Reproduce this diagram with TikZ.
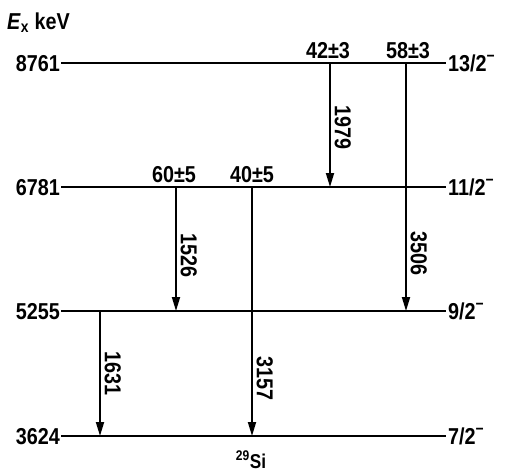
\documentclass[tikz,border=0pt]{standalone}
\usepackage{fontspec}
\setmainfont{Liberation Sans}[FakeStretch=0.86]
\usetikzlibrary{arrows.meta,positioning}

\begin{document}
\begin{tikzpicture}[
    x=1pt, y=-1pt,
    every node/.style={font=\fontsize{23}{25}\selectfont\bfseries},
    level/.style={line width=1.8pt},
    gam/.style={-{Triangle[length=14pt,width=8pt]}, line width=1.8pt},
    elab/.style={anchor=east, inner sep=1pt, text height=16pt, text depth=0pt},
    jlab/.style={anchor=west, inner sep=2pt, text height=16pt, text depth=0pt},
    ilab/.style={anchor=south, inner sep=4pt, text depth=0pt},
    glab/.style={rotate=-90, anchor=south, inner sep=4pt, text depth=0pt}
]
    \useasboundingbox (0,0) rectangle (506,472);

    % Axis title
    \node[anchor=base west, inner sep=0pt] (axis) at (7,29) {\textit{E}\textsubscript{x} keV};

    % Levels
    \node[elab] (e8761) at (61,63) {8761};
    \node[elab] (e6781) at (61,187) {6781};
    \node[elab] (e5255) at (61,311) {5255};
    \node[elab] (e3624) at (61,436) {3624};
    \node[jlab] (j8761) at (446,63) {13/2\textsuperscript{−}};
    \node[jlab] (j6781) at (446,187) {11/2\textsuperscript{−}};
    \node[jlab] (j5255) at (446,311) {9/2\textsuperscript{−}};
    \node[jlab] (j3624) at (446,436) {7/2\textsuperscript{−}};

    \draw[level] (e8761.east) -- (j8761.west);
    \draw[level] (e6781.east) -- (j6781.west);
    \draw[level] (e5255.east) -- (j5255.west);
    \draw[level] (e3624.east) -- (j3624.west);

    % Transitions
    \coordinate (s1979) at (330,63);  \coordinate (f1979) at (330,187);
    \coordinate (s3506) at (406,63);  \coordinate (f3506) at (406,311);
    \coordinate (s1526) at (176,187); \coordinate (f1526) at (176,311);
    \coordinate (s3157) at (252,187); \coordinate (f3157) at (252,436);
    \coordinate (s1631) at (100,311); \coordinate (f1631) at (100,436);

    \draw[gam] (s1979) -- (f1979) node[glab, pos=0.52] {1979};
    \draw[gam] (s3506) -- (f3506) node[glab, pos=0.77] {3506};
    \draw[gam] (s1526) -- (f1526) node[glab, pos=0.55] {1526};
    \draw[gam] (s3157) -- (f3157) node[glab, pos=0.77] {3157};
    \draw[gam] (s1631) -- (f1631) node[glab, pos=0.5] {1631};

    % Branching ratios
    \node[ilab] (b1979) at (328,63) {42±3};
    \node[ilab] (b3506) at (408,63) {58±3};
    \node[ilab] (b1526) at (174,187) {60±5};
    \node[ilab] (b3157) at (252,187) {40±5};

    % Nucleus
    \node[anchor=base, inner sep=0pt, font=\fontsize{20}{22}\selectfont\bfseries] (nuc) at (251,468) {\textsuperscript{29}Si};
\end{tikzpicture}
\end{document}
